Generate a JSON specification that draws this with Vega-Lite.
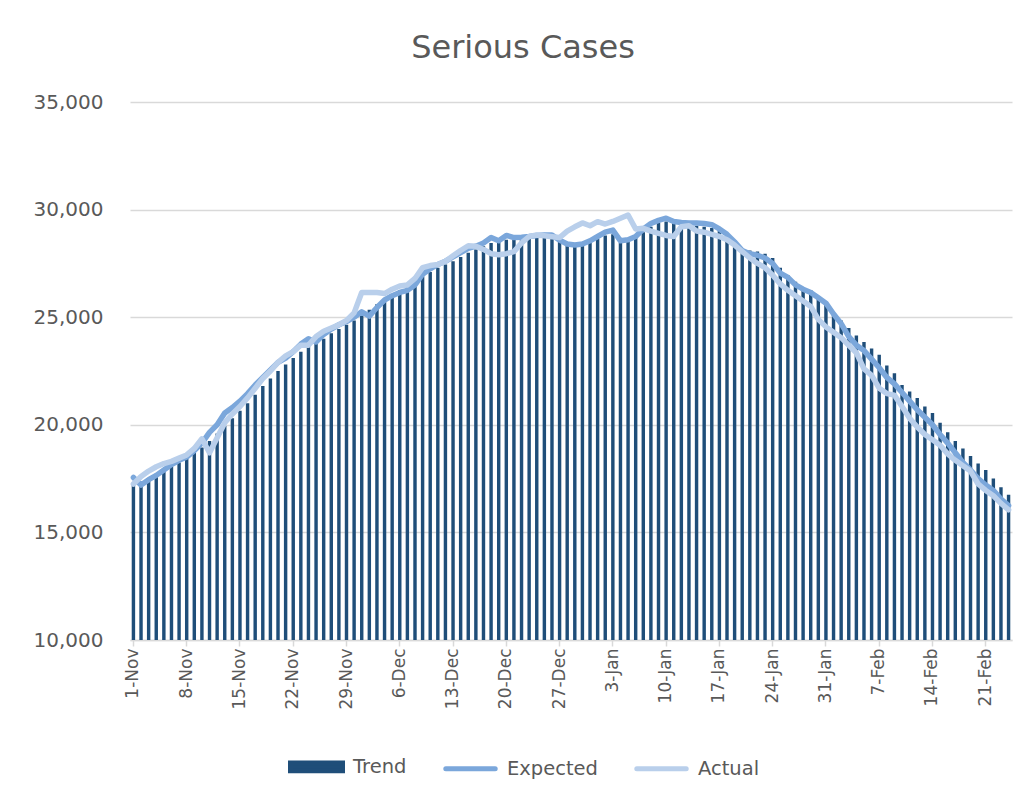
{
  "$schema": "https://vega.github.io/schema/vega-lite/v6.json",
  "width": 882,
  "height": 538,
  "autosize": {"type": "none"},
  "padding": {"left": 130, "top": 102, "right": 17, "bottom": 163},
  "background": "white",
  "title": {"text": "Serious Cases", "font": "DejaVu Sans", "fontSize": 32, "fontWeight": "normal", "color": "#595959", "anchor": "middle", "dx": -48, "offset": 27},
  "config": {"view": {"stroke": null}},
  "data": {"values": [
    {"d": "1-Nov", "Trend": 17250, "Expected": 17550, "Actual": 17250},
    {"d": "2-Nov", "Trend": 17350, "Expected": 17200, "Actual": 17600},
    {"d": "3-Nov", "Trend": 17500, "Expected": 17450, "Actual": 17850},
    {"d": "4-Nov", "Trend": 17650, "Expected": 17650, "Actual": 18050},
    {"d": "5-Nov", "Trend": 17850, "Expected": 17900, "Actual": 18200},
    {"d": "6-Nov", "Trend": 18050, "Expected": 18150, "Actual": 18300},
    {"d": "7-Nov", "Trend": 18250, "Expected": 18350, "Actual": 18450},
    {"d": "8-Nov", "Trend": 18450, "Expected": 18500, "Actual": 18600},
    {"d": "9-Nov", "Trend": 18700, "Expected": 18800, "Actual": 18900},
    {"d": "10-Nov", "Trend": 18950, "Expected": 19150, "Actual": 19350},
    {"d": "11-Nov", "Trend": 19250, "Expected": 19650, "Actual": 18700},
    {"d": "12-Nov", "Trend": 19600, "Expected": 20000, "Actual": 19400},
    {"d": "13-Nov", "Trend": 19950, "Expected": 20550, "Actual": 20100},
    {"d": "14-Nov", "Trend": 20300, "Expected": 20800, "Actual": 20500},
    {"d": "15-Nov", "Trend": 20650, "Expected": 21100, "Actual": 20850},
    {"d": "16-Nov", "Trend": 21000, "Expected": 21450, "Actual": 21250},
    {"d": "17-Nov", "Trend": 21400, "Expected": 21850, "Actual": 21700},
    {"d": "18-Nov", "Trend": 21800, "Expected": 22200, "Actual": 22150},
    {"d": "19-Nov", "Trend": 22150, "Expected": 22550, "Actual": 22500},
    {"d": "20-Nov", "Trend": 22500, "Expected": 22900, "Actual": 22900},
    {"d": "21-Nov", "Trend": 22800, "Expected": 23100, "Actual": 23200},
    {"d": "22-Nov", "Trend": 23100, "Expected": 23400, "Actual": 23400},
    {"d": "23-Nov", "Trend": 23400, "Expected": 23750, "Actual": 23700},
    {"d": "24-Nov", "Trend": 23650, "Expected": 24000, "Actual": 23700},
    {"d": "25-Nov", "Trend": 23800, "Expected": 23850, "Actual": 24100},
    {"d": "26-Nov", "Trend": 24000, "Expected": 24200, "Actual": 24350},
    {"d": "27-Nov", "Trend": 24250, "Expected": 24450, "Actual": 24500},
    {"d": "28-Nov", "Trend": 24450, "Expected": 24650, "Actual": 24650},
    {"d": "29-Nov", "Trend": 24650, "Expected": 24800, "Actual": 24850},
    {"d": "30-Nov", "Trend": 24850, "Expected": 25000, "Actual": 25200},
    {"d": "1-Dec", "Trend": 25100, "Expected": 25250, "Actual": 26150},
    {"d": "2-Dec", "Trend": 25350, "Expected": 25050, "Actual": 26150},
    {"d": "3-Dec", "Trend": 25600, "Expected": 25450, "Actual": 26150},
    {"d": "4-Dec", "Trend": 25850, "Expected": 25800, "Actual": 26100},
    {"d": "5-Dec", "Trend": 26050, "Expected": 26000, "Actual": 26300},
    {"d": "6-Dec", "Trend": 26250, "Expected": 26150, "Actual": 26450},
    {"d": "7-Dec", "Trend": 26450, "Expected": 26250, "Actual": 26500},
    {"d": "8-Dec", "Trend": 26650, "Expected": 26500, "Actual": 26800},
    {"d": "9-Dec", "Trend": 26900, "Expected": 27000, "Actual": 27300},
    {"d": "10-Dec", "Trend": 27100, "Expected": 27250, "Actual": 27400},
    {"d": "11-Dec", "Trend": 27300, "Expected": 27450, "Actual": 27450},
    {"d": "12-Dec", "Trend": 27450, "Expected": 27600, "Actual": 27600},
    {"d": "13-Dec", "Trend": 27600, "Expected": 27800, "Actual": 27850},
    {"d": "14-Dec", "Trend": 27800, "Expected": 28000, "Actual": 28100},
    {"d": "15-Dec", "Trend": 28000, "Expected": 28200, "Actual": 28320},
    {"d": "16-Dec", "Trend": 28150, "Expected": 28300, "Actual": 28300},
    {"d": "17-Dec", "Trend": 28300, "Expected": 28450, "Actual": 28150},
    {"d": "18-Dec", "Trend": 28450, "Expected": 28700, "Actual": 27950},
    {"d": "19-Dec", "Trend": 28500, "Expected": 28550, "Actual": 27900},
    {"d": "20-Dec", "Trend": 28600, "Expected": 28800, "Actual": 27950},
    {"d": "21-Dec", "Trend": 28600, "Expected": 28700, "Actual": 28050},
    {"d": "22-Dec", "Trend": 28650, "Expected": 28720, "Actual": 28450},
    {"d": "23-Dec", "Trend": 28650, "Expected": 28750, "Actual": 28750},
    {"d": "24-Dec", "Trend": 28700, "Expected": 28800, "Actual": 28820},
    {"d": "25-Dec", "Trend": 28700, "Expected": 28820, "Actual": 28780},
    {"d": "26-Dec", "Trend": 28650, "Expected": 28820, "Actual": 28740},
    {"d": "27-Dec", "Trend": 28500, "Expected": 28580, "Actual": 28700},
    {"d": "28-Dec", "Trend": 28350, "Expected": 28400, "Actual": 29000},
    {"d": "29-Dec", "Trend": 28350, "Expected": 28360, "Actual": 29200},
    {"d": "30-Dec", "Trend": 28400, "Expected": 28400, "Actual": 29380},
    {"d": "31-Dec", "Trend": 28500, "Expected": 28550, "Actual": 29250},
    {"d": "1-Jan", "Trend": 28650, "Expected": 28750, "Actual": 29440},
    {"d": "2-Jan", "Trend": 28800, "Expected": 28950, "Actual": 29330},
    {"d": "3-Jan", "Trend": 28850, "Expected": 29050, "Actual": 29450},
    {"d": "4-Jan", "Trend": 28450, "Expected": 28550, "Actual": 29600},
    {"d": "5-Jan", "Trend": 28500, "Expected": 28600, "Actual": 29750},
    {"d": "6-Jan", "Trend": 28700, "Expected": 28750, "Actual": 29100},
    {"d": "7-Jan", "Trend": 28950, "Expected": 29100, "Actual": 29130},
    {"d": "8-Jan", "Trend": 29200, "Expected": 29350, "Actual": 29000},
    {"d": "9-Jan", "Trend": 29400, "Expected": 29500, "Actual": 28900},
    {"d": "10-Jan", "Trend": 29450, "Expected": 29600, "Actual": 28800},
    {"d": "11-Jan", "Trend": 29400, "Expected": 29450, "Actual": 28750},
    {"d": "12-Jan", "Trend": 29350, "Expected": 29400, "Actual": 29200},
    {"d": "13-Jan", "Trend": 29300, "Expected": 29380, "Actual": 29250},
    {"d": "14-Jan", "Trend": 29250, "Expected": 29380, "Actual": 29000},
    {"d": "15-Jan", "Trend": 29200, "Expected": 29350, "Actual": 28950},
    {"d": "16-Jan", "Trend": 29150, "Expected": 29300, "Actual": 28850},
    {"d": "17-Jan", "Trend": 29050, "Expected": 29100, "Actual": 28750},
    {"d": "18-Jan", "Trend": 28900, "Expected": 28850, "Actual": 28600},
    {"d": "19-Jan", "Trend": 28500, "Expected": 28500, "Actual": 28350},
    {"d": "20-Jan", "Trend": 28150, "Expected": 28100, "Actual": 28050},
    {"d": "21-Jan", "Trend": 28100, "Expected": 27950, "Actual": 27750},
    {"d": "22-Jan", "Trend": 28050, "Expected": 27880, "Actual": 27500},
    {"d": "23-Jan", "Trend": 27950, "Expected": 27750, "Actual": 27300},
    {"d": "24-Jan", "Trend": 27750, "Expected": 27500, "Actual": 26950},
    {"d": "25-Jan", "Trend": 27300, "Expected": 27050, "Actual": 26550},
    {"d": "26-Jan", "Trend": 26950, "Expected": 26850, "Actual": 26250},
    {"d": "27-Jan", "Trend": 26650, "Expected": 26500, "Actual": 26000},
    {"d": "28-Jan", "Trend": 26400, "Expected": 26300, "Actual": 25750},
    {"d": "29-Jan", "Trend": 26250, "Expected": 26150, "Actual": 25500},
    {"d": "30-Jan", "Trend": 25950, "Expected": 25900, "Actual": 24900},
    {"d": "31-Jan", "Trend": 25700, "Expected": 25650, "Actual": 24550},
    {"d": "1-Feb", "Trend": 25200, "Expected": 25150, "Actual": 24300},
    {"d": "2-Feb", "Trend": 24850, "Expected": 24700, "Actual": 24050},
    {"d": "3-Feb", "Trend": 24500, "Expected": 24100, "Actual": 23700},
    {"d": "4-Feb", "Trend": 24150, "Expected": 23700, "Actual": 23350},
    {"d": "5-Feb", "Trend": 23850, "Expected": 23450, "Actual": 22600},
    {"d": "6-Feb", "Trend": 23550, "Expected": 23050, "Actual": 22300},
    {"d": "7-Feb", "Trend": 23250, "Expected": 22650, "Actual": 21700},
    {"d": "8-Feb", "Trend": 22750, "Expected": 22200, "Actual": 21450},
    {"d": "9-Feb", "Trend": 22400, "Expected": 21900, "Actual": 21380},
    {"d": "10-Feb", "Trend": 21850, "Expected": 21500, "Actual": 20850},
    {"d": "11-Feb", "Trend": 21550, "Expected": 21100, "Actual": 20300},
    {"d": "12-Feb", "Trend": 21250, "Expected": 20700, "Actual": 19900},
    {"d": "13-Feb", "Trend": 20850, "Expected": 20350, "Actual": 19550},
    {"d": "14-Feb", "Trend": 20550, "Expected": 20000, "Actual": 19300},
    {"d": "15-Feb", "Trend": 20100, "Expected": 19550, "Actual": 19050},
    {"d": "16-Feb", "Trend": 19650, "Expected": 19150, "Actual": 18650},
    {"d": "17-Feb", "Trend": 19250, "Expected": 18700, "Actual": 18350},
    {"d": "18-Feb", "Trend": 18900, "Expected": 18250, "Actual": 18100},
    {"d": "19-Feb", "Trend": 18550, "Expected": 17900, "Actual": 17850},
    {"d": "20-Feb", "Trend": 18200, "Expected": 17500, "Actual": 17250},
    {"d": "21-Feb", "Trend": 17900, "Expected": 17200, "Actual": 16950},
    {"d": "22-Feb", "Trend": 17500, "Expected": 16950, "Actual": 16700},
    {"d": "23-Feb", "Trend": 17100, "Expected": 16550, "Actual": 16350},
    {"d": "24-Feb", "Trend": 16750, "Expected": 16250, "Actual": 16050}
  ]},
  "encoding": {
    "x": {
      "field": "d", "type": "ordinal", "sort": null,
      "scale": {"paddingInner": 0.55, "paddingOuter": 0.225},
      "axis": {
        "title": null,
        "values": ["1-Nov","8-Nov","15-Nov","22-Nov","29-Nov","6-Dec","13-Dec","20-Dec","27-Dec","3-Jan","10-Jan","17-Jan","24-Jan","31-Jan","7-Feb","14-Feb","21-Feb"],
        "labelAngle": -90,
        "labelFont": "DejaVu Sans",
        "labelFontSize": 17,
        "labelColor": "#595959",
        "domainColor": "#d9d9d9",
        "domainWidth": 1.5,
        "tickColor": "#d9d9d9",
        "tickWidth": 1.5,
        "tickSize": 6,
        "labelPadding": 2,
        "grid": false
      }
    }
  },
  "layer": [
    {
      "mark": {"type": "bar", "clip": true},
      "encoding": {
        "y": {
          "field": "Trend", "type": "quantitative",
          "scale": {"domain": [10000, 35000], "nice": false, "zero": false},
          "axis": {
            "title": null,
            "values": [10000, 15000, 20000, 25000, 30000, 35000],
            "format": ",d",
            "labelFont": "DejaVu Sans",
            "labelFontSize": 20,
            "labelColor": "#595959",
            "domain": false,
            "ticks": false,
            "labelPadding": 27,
            "gridColor": "#d9d9d9",
            "gridWidth": 1.5
          }
        },
        "color": {
          "datum": "Trend", "type": "nominal",
          "scale": {"domain": ["Trend", "Expected", "Actual"], "range": ["#1F4E79", "#7BA7DB", "#B9CFEB"]},
          "legend": {
            "title": null,
            "orient": "none",
            "legendX": 158,
            "legendY": 636,
            "direction": "horizontal",
            "symbolSize": 2704,
            "labelOffset": 8,
            "columnPadding": 28,
            "labelFont": "DejaVu Sans",
            "labelFontSize": 19.5,
            "labelColor": "#595959",
            "encode": {
              "symbols": {
                "update": {
                  "shape": {"signal": "datum.value === 'Trend' ? 'M-1,-0.15H1V0.15H-1Z' : 'M-0.95,0H0.95'"},
                  "fill": {"signal": "datum.value === 'Trend' ? '#1F4E79' : 'transparent'"},
                  "stroke": {"signal": "datum.value === 'Trend' ? 'transparent' : (datum.value === 'Expected' ? '#7BA7DB' : '#B9CFEB')"},
                  "strokeWidth": {"value": 5},
                  "strokeCap": {"value": "round"},
                  "size": {"value": 2704},
                  "opacity": {"value": 1}
                }
              }
            }
          }
        }
      }
    },
    {
      "mark": {"type": "line", "strokeWidth": 5.5, "strokeJoin": "round", "strokeCap": "round"},
      "encoding": {
        "y": {"field": "Expected", "type": "quantitative"},
        "color": {"datum": "Expected", "type": "nominal"}
      }
    },
    {
      "mark": {"type": "line", "strokeWidth": 5.5, "strokeJoin": "round", "strokeCap": "round"},
      "encoding": {
        "y": {"field": "Actual", "type": "quantitative"},
        "color": {"datum": "Actual", "type": "nominal"}
      }
    }
  ]
}
